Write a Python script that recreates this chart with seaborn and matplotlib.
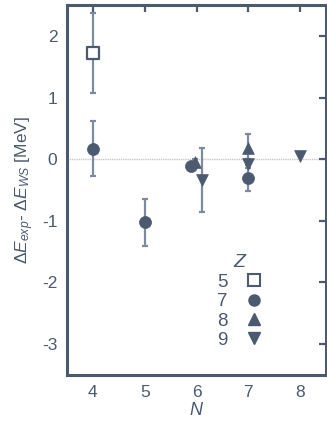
import numpy as np
import pandas as pd
import matplotlib
matplotlib.use("Agg")
import matplotlib.pyplot as plt
from matplotlib.lines import Line2D
import seaborn as sns

# Energy difference residuals (MeV) by neutron number N, grouped by proton number Z
n_z5 = [4.0]
d_z5 = [1.72]
e_z5 = [0.65]

n_z8 = [5.97, 7.0]
d_z8 = [-0.04, 0.19]
e_z8 = [0.04, 0.22]

n_z7 = [4.0, 5.0, 5.9, 7.0]
d_z7 = [0.17, -1.02, -0.11, -0.31]
e_z7 = [0.45, 0.38, 0.0, 0.21]

n_z9 = [6.1, 7.0, 8.0]
d_z9 = [-0.34, -0.07, 0.05]
e_z9 = [0.52, 0.08, 0.0]

z_labels = ["5", "7", "8", "9"]
x_ticks = [4, 5, 6, 7, 8]
y_ticks = [-3, -2, -1, 0, 1, 2]

INK = "#4b5a6f"
ERR = "#7e8b9c"

sns.set_theme(style="white")
plt.rcParams["font.family"] = ["Liberation Sans", "DejaVu Sans"]
plt.rcParams["mathtext.fontset"] = "custom"
plt.rcParams["mathtext.rm"] = "Liberation Sans"
plt.rcParams["mathtext.it"] = "Liberation Sans:italic"

frames = []
for z, n, d, e in [("5", n_z5, d_z5, e_z5), ("8", n_z8, d_z8, e_z8),
                   ("7", n_z7, d_z7, e_z7), ("9", n_z9, d_z9, e_z9)]:
    frames.append(pd.DataFrame({"N": n, "dE": d, "err": e, "Z": z}))
df = pd.concat(frames, ignore_index=True)

fig = plt.figure(figsize=(3.27, 4.29), dpi=100)
ax = fig.add_axes([0.205, 0.126, 0.792, 0.862])

ax.axhline(0, color="#c8c8c8", lw=1.0, ls=(0, (1, 0.6)), zorder=0)

# error bars
for _, r in df.iterrows():
    if r["err"] > 0:
        ax.errorbar(r["N"], r["dE"], yerr=r["err"], fmt="none", ecolor=ERR,
                    elinewidth=1.6, capsize=2.2, capthick=1.6, zorder=1)

markers = {"5": "s", "7": "o", "8": "^", "9": "v"}
sizes = {"5": 80, "7": 75, "8": 72, "9": 72}

for z in ["8", "7", "9"]:
    sub = df[df["Z"] == z]
    sns.scatterplot(data=sub, x="N", y="dE", marker=markers[z], s=sizes[z],
                    color=INK, edgecolor=INK, linewidth=0.5, ax=ax,
                    legend=False, zorder=3)
sub5 = df[df["Z"] == "5"]
ax.scatter(sub5["N"], sub5["dE"], marker="s", s=sizes["5"], facecolors="white",
           edgecolors=INK, linewidths=1.6, zorder=3)

ax.set_xlim(3.5, 8.5)
ax.set_ylim(-3.5, 2.5)
ax.set_xticks(x_ticks)
ax.set_yticks(y_ticks)
ax.set_xticklabels([str(t) for t in x_ticks])
ax.set_yticklabels([str(t) for t in y_ticks])

for s in ax.spines.values():
    s.set_color(INK)
    s.set_linewidth(2.2)
ax.tick_params(axis="both", which="both", direction="in", length=5, width=1.6,
               color=INK, labelcolor=INK, labelsize=12.5, top=True, right=True,
               pad=7)

ax.set_xlabel("$N$", color=INK, fontsize=13, labelpad=2)
ax.set_ylabel(r"$\Delta E_{exp}$- $\Delta E_{WS}$ [MeV]", color=INK,
              fontsize=12.5, labelpad=4)

handles = [
    Line2D([], [], ls="none", marker="s", ms=8, mfc="white", mec=INK, mew=1.5),
    Line2D([], [], ls="none", marker="o", ms=8, mfc=INK, mec=INK),
    Line2D([], [], ls="none", marker="^", ms=8, mfc=INK, mec=INK),
    Line2D([], [], ls="none", marker="v", ms=8, mfc=INK, mec=INK),
]
leg = ax.legend(handles, z_labels, title="$Z$", frameon=False, markerfirst=False,
                loc="lower left", bbox_to_anchor=(0.53, 0.035),
                fontsize=13.5, title_fontsize=14, handlelength=1.0,
                handletextpad=0.9, labelspacing=0.12, borderpad=0.2)
for t in leg.get_texts():
    t.set_color(INK)
leg.get_title().set_color(INK)
leg._legend_box.align = "center"

fig.savefig("out.png", dpi=100)
